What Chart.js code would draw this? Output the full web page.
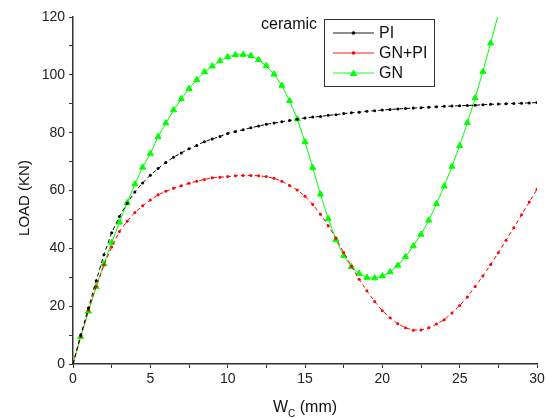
<!DOCTYPE html>
<html>
<head>
<meta charset="utf-8">
<script src="https://cdn.jsdelivr.net/npm/chart.js@4.4.1/dist/chart.umd.min.js"></script>
<style>
  html, body { margin: 0; padding: 0; background: #fff; }
  #wrap { width: 548px; height: 419px; }
</style>
</head>
<body>
<div id="wrap"><canvas id="myChart" width="548" height="419"></canvas></div>
<script>
// desplazamiento W_C (mm)
const wc = [0, 0.5, 1, 1.5, 2, 2.5, 3, 3.5, 4, 4.5, 5, 5.5, 6, 6.5, 7, 7.5, 8, 8.5, 9, 9.5,
  10, 10.5, 11, 11.5, 12, 12.5, 13, 13.5, 14, 14.5, 15, 15.5, 16, 16.5, 17, 17.5, 18, 18.5, 19, 19.5,
  20, 20.5, 21, 21.5, 22, 22.5, 23, 23.5, 24, 24.5, 25, 25.5, 26, 26.5, 27, 27.5, 28, 28.5, 29, 29.5, 30];

// carga (KN)
const pi = [0, 10, 19.4, 28.8, 37.8, 45.4, 51, 55.6, 59.5, 62.6, 65.3, 67.6, 69.7, 71.5, 73, 74.4, 75.6, 76.9, 77.8, 78.7,
  79.7, 80.4, 81, 81.7, 82.3, 82.9, 83.3, 83.8, 84.2, 84.6, 85.1, 85.4, 85.6, 86, 86.2, 86.6, 86.9, 87.1, 87.4, 87.6,
  87.8, 88, 88.2, 88.35, 88.5, 88.65, 88.8, 88.95, 89.1, 89.2, 89.3, 89.4, 89.5, 89.65, 89.8, 89.9, 90, 90.1, 90.2, 90.3, 90.4];

const gnPi = [0, 9.5, 18.6, 26.8, 34.2, 40.5, 45.8, 49.4, 52.4, 54.7, 56.7, 58.5, 59.7, 60.8, 61.6, 62.5, 63.2, 63.8, 64.4, 64.6,
  64.8, 65.1, 65.2, 65.2, 65.1, 64.8, 64.2, 63.2, 61.7, 60.2, 58, 55.2, 51.8, 47.8, 43.5, 38.6, 33.8, 29.3, 25.3, 21.6,
  18.4, 16, 13.9, 12.5, 11.7, 11.8, 12.5, 13.8, 15.3, 17.6, 20.2, 23.2, 26.8, 30.4, 34.4, 38.5, 42.8, 47.1, 51.6, 56, 60.4];

const gn = [0, 9.4, 18.2, 26.7, 34.6, 42, 49, 55.7, 62.2, 68, 72.8, 78.6, 83.3, 87.8, 91.7, 95.2, 98.3, 101, 103, 104.8,
  106.2, 106.9, 107, 106.6, 105.2, 103.1, 100.2, 96.3, 91, 84.7, 76.8, 67.9, 58.7, 50.2, 43, 37.5, 33.6, 31.3, 29.9, 29.7,
  30.4, 31.8, 34.1, 37.1, 40.8, 44.8, 49.7, 55.4, 61.5, 68.3, 75.5, 83.4, 92, 101.1, 110.9, 121];

const xTicks = [0, 5, 10, 15, 20, 25, 30];
const yTicks = [0, 20, 40, 60, 80, 100, 120];

const series = [
  { label: "PI", values: pi, color: "#000000", style: "circle" },
  { label: "GN+PI", values: gnPi, color: "#ff0000", style: "circle" },
  { label: "GN", values: gn, color: "#00ff00", style: "triangle" }
];

const FONT = "'Liberation Sans', Arial, sans-serif";

function puntos(vals) {
  return vals.map((v, i) => ({ x: wc[i], y: v }));
}

const datasets = series.map((s) => ({
  label: s.label,
  data: puntos(s.values),
  borderColor: s.color,
  backgroundColor: s.color,
  borderWidth: 1,
  borderDash: s.style === "circle" ? [4, 3] : [],
  pointStyle: s.style,
  pointRadius: s.style === "circle" ? 1.5 : 3.5,
  pointBorderWidth: s.style === "circle" ? 0 : 1,
  tension: 0,
  clip: 0
}));

// leyenda, "ceramic" y titulos de ejes
const extras = {
  id: "extras",
  afterDraw(chart) {
    const ctx = chart.ctx;
    ctx.save();
    ctx.fillStyle = "#111";
    ctx.textBaseline = "alphabetic";
    ctx.textAlign = "left";
    ctx.font = "16px " + FONT;
    ctx.fillText("ceramic", 261, 29);

    // caja
    ctx.strokeStyle = "#333";
    ctx.lineWidth = 1;
    ctx.strokeRect(324.5, 19.5, 110, 67);
    const filas = [33, 53, 73];
    series.forEach((s, i) => {
      const y = filas[i];
      ctx.strokeStyle = s.color;
      ctx.globalAlpha = 0.6;
      ctx.lineWidth = 1.5;
      ctx.beginPath();
      ctx.moveTo(333, y);
      ctx.lineTo(374, y);
      ctx.stroke();
      ctx.globalAlpha = 1;
      ctx.fillStyle = s.color;
      ctx.beginPath();
      if (s.style === "triangle") {
        ctx.moveTo(353.5, y - 3.5);
        ctx.lineTo(357.5, y + 3);
        ctx.lineTo(349.5, y + 3);
        ctx.closePath();
      } else {
        ctx.arc(353.5, y, 1.8, 0, Math.PI * 2);
      }
      ctx.fill();
      ctx.fillStyle = "#111";
      ctx.font = "16px " + FONT;
      ctx.textBaseline = "middle";
      ctx.fillText(s.label, 379, y + 1);
    });

    // LOAD (KN)
    ctx.save();
    ctx.translate(25, 198);
    ctx.rotate(-Math.PI / 2);
    ctx.textAlign = "center";
    ctx.textBaseline = "middle";
    ctx.font = "15px " + FONT;
    ctx.fillStyle = "#111";
    ctx.fillText("LOAD (KN)", 0, 0);
    ctx.restore();

    // W_C (mm)
    const xa = chart.chartArea;
    const cx = (xa.left + xa.right) / 2;
    ctx.textBaseline = "alphabetic";
    ctx.textAlign = "left";
    ctx.fillStyle = "#111";
    const big = "16px " + FONT;
    const small = "10px " + FONT;
    ctx.font = big;
    const wW = ctx.measureText("W").width;
    const wR = ctx.measureText(" (mm)").width;
    ctx.font = small;
    const wC = ctx.measureText("C").width;
    const x0 = cx - (wW + wC + wR) / 2;
    const base = 412;
    ctx.font = big;
    ctx.fillText("W", x0, base);
    ctx.font = small;
    ctx.fillText("C", x0 + wW, base + 5);
    ctx.font = big;
    ctx.fillText(" (mm)", x0 + wW + wC, base);
    ctx.restore();
  }
};

const chartDOM = document.getElementById("myChart");
new Chart(chartDOM, {
  type: "line",
  data: { datasets: datasets },
  options: {
    responsive: false,
    animation: false,
    layout: { padding: { top: 17, right: 11, left: 0, bottom: 0 } },
    plugins: { legend: { display: false }, tooltip: { enabled: false } },
    scales: {
      x: {
        type: "linear",
        min: 0,
        max: 30,
        afterBuildTicks: (s) => {
          const t = [];
          xTicks.forEach((v, i) => {
            t.push({ value: v });
            if (i < xTicks.length - 1) t.push({ value: v + 2.5 });
          });
          s.ticks = t;
        },
        ticks: {
          autoSkip: false,
          maxRotation: 0,
          padding: 3,
          color: "#222",
          font: { size: 14, family: FONT },
          callback: (v) => (xTicks.includes(v) ? v : "")
        },
        grid: { drawOnChartArea: false, drawTicks: true, tickLength: 4, color: "#333" },
        border: { color: "#333", width: 1.5 },
        afterFit: (s) => { s.height = 55; }
      },
      y: {
        min: 0,
        max: 120,
        afterBuildTicks: (s) => {
          const t = [];
          yTicks.forEach((v, i) => {
            t.push({ value: v });
            if (i < yTicks.length - 1) t.push({ value: v + 10 });
          });
          s.ticks = t;
        },
        ticks: {
          autoSkip: false,
          padding: 4,
          color: "#222",
          font: { size: 14, family: FONT },
          callback: (v) => (yTicks.includes(v) ? v : "")
        },
        grid: { drawOnChartArea: false, drawTicks: true, tickLength: 4, color: "#333" },
        border: { color: "#333", width: 1.5 },
        afterFit: (s) => { s.width = 73; }
      }
    }
  },
  plugins: [extras]
});
</script>
</body>
</html>
